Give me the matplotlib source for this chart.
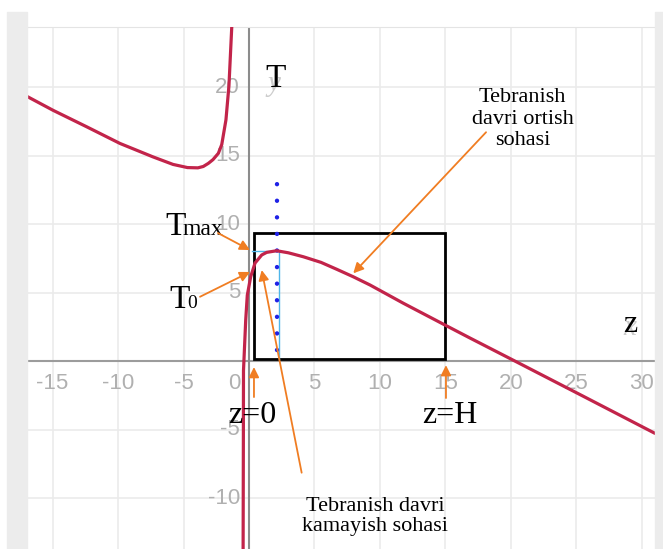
import matplotlib.pyplot as plt
from matplotlib.patches import Rectangle

# period curve T(z): two branches either side of the asymptote
left_z = [-17.0, -14.96, -12.4, -9.85, -7.33, -5.8, -4.7, -3.9, -3.49, -3.1, -2.75, -2.34, -2.08, -1.76, -1.53, -1.31]
left_T = [19.34, 18.3, 17.1, 15.88, 14.9, 14.35, 14.12, 14.1, 14.2, 14.43, 14.7, 15.16, 15.8, 17.6, 20.1, 24.5]

right_z = [-0.45, -0.43, -0.42, -0.25, -0.13, 0.13, 0.46, 0.97, 1.35, 2.11, 3.0, 4.15, 5.5, 6.69,
           7.96, 9.24, 11.78, 14.96, 16.87, 20.3, 25.5, 31.0]
right_T = [-14.0, -6.0, -0.7, 3.0, 4.8, 6.15, 7.15, 7.74, 7.93, 8.05, 7.9, 7.61, 7.2, 6.7,
           6.15, 5.55, 4.22, 2.63, 1.68, 0.0, -2.56, -5.28]

x_ticks = [-15, -10, -5, 0, 5, 10, 15, 20, 25, 30]
y_ticks = [-10, -5, 5, 10, 15, 20]

# region box z=0..H and the T_max guide
box_z = [0.4, 15.0]
box_T = [0.15, 9.35]
t_max = 8.0
z_max = 2.27
dots_z = 2.16
dots_T = [0.8, 12.9]

red = "#c2244a"
orange = "#f07d22"
serif = "Liberation Serif"

fig = plt.figure(figsize=(6.63, 5.49), dpi=100)
fig.patch.set_facecolor("white")
# window frame strips
fig.patches.append(Rectangle((7/663, 0), 20/663, 537/549, transform=fig.transFigure,
                             color="#ececec", zorder=0))
fig.patches.append(Rectangle((655/663, 0), 8/663, 537/549, transform=fig.transFigure,
                             color="#ececec", zorder=0))

ax = fig.add_axes([27/663, 0, 628/663, 522/549])
ax.set_xlim(-16.95, 31.0)
ax.set_ylim(-13.72, 24.38)
for s in ax.spines.values():
    s.set_visible(False)
ax.spines["top"].set_visible(True)
ax.spines["top"].set_color("#e4e4e4")
ax.set_xticks(x_ticks)
ax.set_yticks([-10, -5, 0, 5, 10, 15, 20])
ax.tick_params(length=0, labelbottom=False, labelleft=False)
ax.grid(color="#ebebeb", lw=1.2)
ax.set_axisbelow(True)
ax.axhline(0, color="#9c9c9c", lw=1.5, zorder=1)
ax.axvline(0, color="#8c8c8c", lw=1.5, zorder=1)

# axis numbers
for x in x_ticks:
    xpos = -1.15 if x == 0 else x
    ax.text(xpos, -1.62, str(x), ha="center", va="center", color="#b0b0b0",
            fontsize=16, family="Liberation Sans", zorder=2)
for y in y_ticks:
    ax.text(-0.69, y, str(y), ha="right", va="center", color="#b0b0b0",
            fontsize=16, family="Liberation Sans", zorder=2)
ax.text(1.9, 20.2, "y", color="#cccccc", fontsize=21, family=serif, style="italic",
        ha="center", va="center", zorder=2)
ax.text(29.1, 2.4, "x", color="#cccccc", fontsize=21, family=serif, style="italic",
        ha="center", va="center", zorder=2)

# guides
ax.add_patch(Rectangle((box_z[0], box_T[0]), box_z[1] - box_z[0], box_T[1] - box_T[0],
                       fill=False, ec="black", lw=2.0, zorder=3))
ax.plot([0.25, z_max], [t_max, t_max], color="#4fb6ea", lw=1.0, zorder=3)
ax.plot([z_max, z_max], [t_max, 0.15], color="#4fb6ea", lw=1.0, zorder=3)
ax.plot([dots_z, dots_z], dots_T, color="#1f22e6", lw=3.2,
        linestyle=(0, (0.001, 3.73)), dash_capstyle="round", zorder=4)

# curve
ax.plot(left_z, left_T, color=red, lw=2.3, solid_capstyle="round",
        solid_joinstyle="round", zorder=5)
ax.plot(right_z, right_T, color=red, lw=2.3, solid_capstyle="round",
        solid_joinstyle="round", zorder=5)

# labels
ax.text(2.06, 20.0, "T", fontsize=24, family=serif, ha="center", va="baseline", zorder=6)
ax.text(29.08, 2.12, "z", fontsize=23, family=serif, ha="center", va="baseline", zorder=6)
ax.text(-6.4, 9.2, "T", fontsize=24, family=serif, ha="left", va="baseline", zorder=6)
ax.text(-5.1, 9.2, "max", fontsize=17, family=serif, ha="left", va="baseline", zorder=6)
ax.text(-6.1, 3.87, "T", fontsize=24, family=serif, ha="left", va="baseline", zorder=6)
ax.text(-4.75, 3.87, "0", fontsize=14, family=serif, ha="left", va="baseline", zorder=6)
ax.text(0.27, -4.53, "z=0", fontsize=23, family=serif, ha="center", va="baseline", zorder=6)
ax.text(15.34, -4.53, "z=H", fontsize=23, family=serif, ha="center", va="baseline", zorder=6)
ax.text(20.9, 17.66, "Tebranish\ndavri ortish\nsohasi", fontsize=16, family=serif,
        ha="center", va="center", multialignment="center", linespacing=1.2, zorder=6)
ax.text(9.62, -11.35, "Tebranish davri\nkamayish sohasi", fontsize=16, family=serif,
        ha="center", va="center", multialignment="center", linespacing=1.1, zorder=6)

# arrows: (tail, tip)
arrows = [
    ((-2.37, 9.34), (0.08, 8.1)),
    ((-3.74, 4.69), (0.08, 6.5)),
    ((0.38, -2.63), (0.38, -0.44)),
    ((15.04, -2.7), (15.04, -0.3)),
    ((4.02, -8.15), (0.97, 6.64)),
    ((18.1, 16.7), (7.96, 6.4)),
]
for tail, tip in arrows:
    ax.annotate("", xy=tip, xytext=tail, zorder=7,
                arrowprops=dict(arrowstyle="-|>", color=orange, lw=1.3,
                                mutation_scale=15, shrinkA=0, shrinkB=0))

fig.savefig("out.png", dpi=100, facecolor="white")
